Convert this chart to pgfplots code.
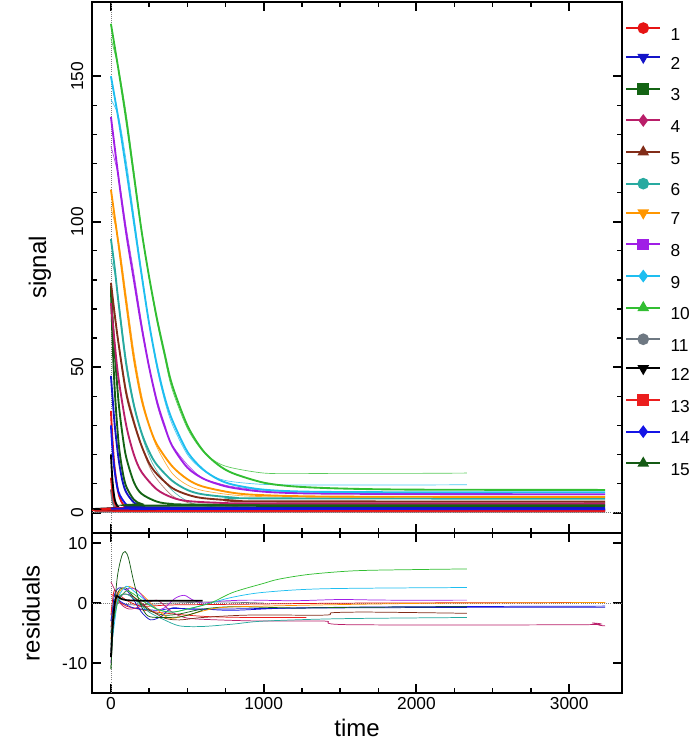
\documentclass[border=0pt]{standalone}
\usepackage{fontspec}
\setmainfont{Liberation Sans}
\usepackage{pgfplots}
\pgfplotsset{compat=1.18}
\usetikzlibrary{calc}
\definecolor{c1}{RGB}{230,20,20}
\definecolor{c2}{RGB}{20,20,200}
\definecolor{c3}{RGB}{20,100,20}
\definecolor{c4}{RGB}{185,30,105}
\definecolor{c5}{RGB}{130,45,25}
\definecolor{c6}{RGB}{40,170,160}
\definecolor{c7}{RGB}{255,150,0}
\definecolor{c8}{RGB}{160,30,230}
\definecolor{c9}{RGB}{30,190,240}
\definecolor{c10}{RGB}{50,190,50}
\definecolor{c11}{RGB}{110,120,130}
\definecolor{c12}{RGB}{0,0,0}
\definecolor{c13}{RGB}{235,30,30}
\definecolor{c14}{RGB}{20,20,230}
\definecolor{c15}{RGB}{20,90,20}
\pgfplotsset{
  common/.style={scale only axis, width=397.5pt, xmin=-124, xmax=3346,
    axis line style={line width=1.6pt}, tick align=inside,
    xtick={0,1000,2000,3000}, minor x tick num=3,
    major tick length=7pt, minor tick length=4pt,
    major tick style={line width=1.4pt, black},
    minor tick style={line width=1pt, black},
    tick label style={font=\fontsize{13}{15}\selectfont},
    label style={font=\fontsize{18}{21}\selectfont},
    /pgf/number format/assume math mode=true,
    /pgf/number format/1000 sep={}},
  fit/.style={line width=1.4pt, smooth},
  dat/.style={line width=0.5pt, smooth},
  res/.style={line width=0.55pt, smooth},
  lg/.style={line width=1.5pt, mark size=3.6pt, mark options={solid, draw=black!75, line width=0.6pt}},
}
\begin{document}
\begin{tikzpicture}
\begin{axis}[common, name=top, height=398.25pt, ymin=-7, ymax=175.5,
  ytick={0,50,100,150}, minor y tick num=4, xticklabels={},
  yticklabel style={rotate=90, anchor=south, yshift=3pt},
  ylabel={signal}, ylabel style={yshift=8pt},
  legend style={at={(1,1)}, anchor=north west, xshift=2.25pt, yshift=-15.75pt,
    draw=none, fill=none, inner sep=0pt, row sep=11.1pt, column sep=7pt,
    font=\fontsize{13}{15}\selectfont,
    nodes={inner sep=0pt, text height=9pt, text depth=0pt}},
  legend cell align=left,
  legend image code/.code={\draw[mark repeat=2, mark phase=2, #1] plot coordinates {(0pt,4.5pt) (12.75pt,4.5pt) (25.5pt,4.5pt)};}
]
\addlegendimage{lg, c1, mark=*, mark options={fill=c1}}\addlegendentry{1}
\addlegendimage{lg, c2, mark=triangle*, mark options={fill=c2, rotate=180}}\addlegendentry{2}
\addlegendimage{lg, c3, mark=square*, mark options={fill=c3}}\addlegendentry{3}
\addlegendimage{lg, c4, mark=diamond*, mark options={fill=c4}}\addlegendentry{4}
\addlegendimage{lg, c5, mark=triangle*, mark options={fill=c5}}\addlegendentry{5}
\addlegendimage{lg, c6, mark=*, mark options={fill=c6}}\addlegendentry{6}
\addlegendimage{lg, c7, mark=triangle*, mark options={fill=c7, rotate=180}}\addlegendentry{7}
\addlegendimage{lg, c8, mark=square*, mark options={fill=c8}}\addlegendentry{8}
\addlegendimage{lg, c9, mark=diamond*, mark options={fill=c9}}\addlegendentry{9}
\addlegendimage{lg, c10, mark=triangle*, mark options={fill=c10}}\addlegendentry{10}
\addlegendimage{lg, c11, mark=*, mark options={fill=c11}}\addlegendentry{11}
\addlegendimage{lg, c12, mark=triangle*, mark options={fill=c12, rotate=180}}\addlegendentry{12}
\addlegendimage{lg, c13, mark=square*, mark options={fill=c13}}\addlegendentry{13}
\addlegendimage{lg, c14, mark=diamond*, mark options={fill=c14}}\addlegendentry{14}
\addlegendimage{lg, c15, mark=triangle*, mark options={fill=c15}}\addlegendentry{15}
\draw[gray, densely dotted, line width=0.6pt] (axis cs:0,-7) -- (axis cs:0,175.5);
\draw[gray, densely dotted, line width=0.6pt] (axis cs:-124,0) -- (axis cs:3346,0);
% data (thin)
\addplot[dat, c10!80, forget plot] coordinates {(0,163) (50,152.5) (100,137) (150,117.5) (200,97.5) (250,80.8) (300,66) (350,53.8) (400,42.5) (500,29) (600,21.2) (700,17.1) (800,15.3) (1000,13.6) (1200,13.4) (1500,13.5) (2000,13.5) (2330,13.6)};
\addplot[dat, c9!80, forget plot] coordinates {(0,142) (50,136) (100,120.8) (150,102) (200,83) (250,65) (300,50) (350,38.8) (400,30.5) (500,20) (600,14.7) (700,11.8) (800,10.6) (1000,9.7) (1300,9.5) (2000,9.5) (2330,9.6)};
\addplot[dat, c8!80, forget plot] coordinates {(0,126) (50,115.3) (100,98) (150,82.3) (200,65.4) (250,50.1) (300,37.5) (350,29.2) (400,23.3) (500,16.5) (600,11.8) (700,10.1) (800,8.9) (1000,7.7) (1300,7.05) (2000,6.9) (2330,6.8)};
\addplot[dat, c7!80, forget plot] coordinates {(0,105) (50,93.3) (100,74.5) (150,55.3) (200,40.5) (250,30.2) (300,22.6) (400,13.6) (500,9.5) (600,7.6) (800,6.05) (1000,5.5) (1500,5.25) (2200,5.4) (3235,5.5)};
\addplot[dat, c6!80, forget plot] coordinates {(0,87) (25,82.3) (50,73) (100,52.5) (150,37.7) (200,27) (250,19.5) (300,14.4) (400,7.7) (500,3.95) (600,2.4) (800,1.7) (1000,1.9) (1500,2.2) (2330,2.4)};
\addplot[dat, c5!60, forget plot] coordinates {(0,75) (25,67.3) (50,58.6) (100,42.4) (150,32) (200,23) (250,16) (300,11.55) (400,5.85) (500,3.5) (600,2.6) (900,2.0) (1400,1.9) (1700,2.4) (2330,2.1)};
% fits (bold)
\addplot[fit, c11, forget plot] coordinates {(0,8) (10,4) (25,1.5) (50,0.5) (100,0.3) (3235,0.3)};
\addplot[fit, c13, forget plot] coordinates {(0,12) (10,7) (25,3.2) (50,1.2) (100,0.6) (3235,0.5)};
\addplot[fit, c12, forget plot] coordinates {(0,20) (10,11) (25,4.5) (50,1.8) (100,1.1) (3235,1.0)};
\addplot[fit, c1, forget plot] coordinates {(0,35) (10,25) (25,15) (50,6.5) (75,3.2) (100,1.8) (150,1) (3235,0.8)};
\addplot[fit, c14, forget plot] coordinates {(0,30) (10,22) (25,14) (50,7) (100,2.8) (150,1.6) (200,1.3) (3235,1.2)};
\addplot[fit, c2, forget plot] coordinates {(0,47) (10,40) (25,30) (50,18.5) (75,11) (100,7) (150,3.5) (200,2.3) (300,1.8) (3235,1.7)};
\addplot[fit, c15, forget plot] coordinates {(0,77) (10,60) (25,42) (50,24) (75,14.5) (100,9) (150,4.5) (200,3) (300,2.4) (3235,2.3)};
\addplot[fit, c3, forget plot] coordinates {(0,78) (10,68) (25,55) (50,38) (75,27) (100,19) (150,10.5) (200,6.5) (300,3.8) (400,3) (600,2.8) (3235,2.7)};
\addplot[fit, c4, forget plot] coordinates {(0,72) (25,58) (50,46) (100,30) (150,20) (200,14) (300,8) (400,5.2) (500,4) (700,3.4) (1000,3.2) (3235,3.2)};
\addplot[fit, c5, forget plot] coordinates {(0,79) (25,68) (50,58) (100,41) (150,31) (200,23) (250,17) (300,13.3) (400,8.5) (500,6.2) (600,5) (800,4.2) (1000,3.9) (3235,3.8)};
\addplot[fit, c6, forget plot] coordinates {(0,94) (25,84) (50,72) (100,51) (150,37) (200,27.5) (250,21) (300,16.5) (400,11) (500,7.8) (600,6.3) (800,5.2) (1000,4.9) (3235,4.8)};
\addplot[fit, c7, forget plot] coordinates {(0,111) (50,92) (100,72) (150,53) (200,39) (250,30) (300,23.5) (400,16) (500,11.5) (600,9) (800,6.8) (1000,6) (1500,5.5) (3235,5.4)};
\addplot[fit, c8, forget plot] coordinates {(0,136) (50,115) (100,96) (150,80) (200,64) (250,50) (300,38.5) (350,30) (400,23) (500,15.5) (600,11.8) (700,9.8) (800,8.5) (1000,7.2) (1300,6.6) (2000,6.4) (3235,6.3)};
\addplot[fit, c9, forget plot] coordinates {(0,150) (50,135) (100,118) (150,100) (200,82) (250,65) (300,51) (350,40) (400,32) (500,21) (600,15) (700,11.5) (800,9.6) (1000,7.9) (1300,7.2) (2000,7.0) (3235,7.0)};
\addplot[fit, c10, forget plot] coordinates {(0,168) (50,152) (100,135) (150,116) (200,97) (250,81) (300,67) (350,55) (400,44) (500,30) (600,21.5) (700,16.5) (800,13.5) (1000,10.3) (1200,9) (1500,8.3) (2000,7.9) (3235,7.8)};
\end{axis}
\begin{axis}[common, name=bot, at={(top.south west)}, anchor=north west, height=120pt,
  ymin=-15, ymax=11.7, ytick={-10,0,10}, xlabel={time}, ylabel={residuals},
  ylabel style={yshift=10pt}]
\draw[gray, densely dotted, line width=0.6pt] (axis cs:0,-15) -- (axis cs:0,11.7);
\draw[gray, densely dotted, line width=0.6pt] (axis cs:-124,0) -- (axis cs:3346,0);
\addplot[res, c11] coordinates {(0,-3) (20,0.5) (60,0) (150,-0.3) (400,0) (700,0.2) (1000,0)};
\addplot[res, c13] coordinates {(0,1.5) (30,1) (100,-0.5) (300,-1.5) (600,-2.2) (900,-2.4) (1280,-2.4)};
\addplot[res, c1] coordinates {(0,-2) (20,2) (50,1.5) (100,0.5) (200,-0.5) (400,-0.3) (800,-0.2) (1600,0) (3235,0.1)};
\addplot[res, c14] coordinates {(0,-3) (30,0.5) (80,0) (150,-0.8) (300,-1.2) (400,-0.9) (600,-1) (800,-1.2) (1200,-0.8) (2000,-0.6) (3235,-0.5)};
\addplot[res, c2] coordinates {(0,-5) (20,1) (50,2.5) (100,2.2) (150,0.5) (200,-1.5) (260,-2.8) (330,-2.2) (400,-0.8) (500,-1) (700,-1) (1000,-0.9) (1500,-0.8) (2500,-0.7) (3235,-0.7)};
\addplot[res, c3] coordinates {(0,-11) (20,-2) (50,2) (100,2.5) (150,1) (250,-1.2) (350,-2) (450,-1.8) (600,-1) (800,-0.6) (1200,-0.8) (1600,-0.7) (2330,-0.6)};
\addplot[res, c4] coordinates {(0,3.5) (20,2.5) (60,0) (120,-1) (200,-0.5) (300,0.5) (400,-1.5) (500,-2.5) (700,-2.8) (1000,-3) (1400,-3) (1560,-3.6) (3100,-3.6) (3150,-3.3) (3200,-3.7) (3235,-3.8)};
\addplot[res, c5] coordinates {(0,-4) (30,0) (80,1.5) (150,1) (250,-1) (350,-2.5) (450,-2.8) (600,-2.4) (900,-2) (1400,-2) (1450,-1.6) (1700,-1.5) (2330,-1.7)};
\addplot[res, c6] coordinates {(0,-7) (20,-2) (50,1) (100,1.5) (160,0.5) (250,-1.5) (350,-2.8) (450,-3.8) (600,-3.9) (800,-3.5) (1000,-3.0) (1500,-2.6) (2330,-2.4)};
\addplot[res, c7] coordinates {(0,-6) (20,-1) (60,2) (120,2.8) (200,1.5) (280,-0.5) (380,-2.5) (500,-2) (700,-0.8) (1000,-0.5) (1600,-0.2) (2200,0) (3235,0.1)};
\addplot[res, c8] coordinates {(0,-10) (15,-4) (40,0) (80,1.5) (120,2.5) (170,2.2) (230,0.5) (300,-1) (350,-0.8) (420,0.8) (480,1.3) (530,0.6) (600,0) (700,0.3) (900,0.5) (1200,0.4) (1500,0.6) (1800,0.5) (2330,0.5)};
\addplot[res, c9] coordinates {(0,-8) (25,-3) (50,1) (100,2.8) (150,2) (200,1) (300,-1) (400,-1.5) (500,-1) (650,0) (800,1) (1000,1.8) (1400,2.4) (2330,2.6)};
\addplot[res, c10] coordinates {(0,-5) (25,-2) (50,0.5) (100,2) (150,1.5) (200,0.5) (300,-1) (400,-1.5) (500,-1) (650,0) (800,1.8) (1000,3.3) (1100,4.0) (1300,4.8) (1600,5.4) (2000,5.6) (2330,5.7)};
\addplot[res, c15] coordinates {(0,-11) (15,-4) (40,4) (70,7.8) (93,8.6) (115,7.5) (150,3.5) (190,0) (240,-2.1) (320,-2.4) (450,-2.3) (530,-1.8) (600,-1.2)};
\addplot[res, c12, line width=1.3pt] coordinates {(0,-9) (10,-4) (25,0) (40,1.2) (60,0.8) (100,0.5) (200,0.4) (400,0.4) (600,0.4)};
\end{axis}
\pgfresetboundingbox
\path ($(top.south west)+(-69pt,-160.5pt)$) rectangle ($(top.south west)+(451.5pt,399.75pt)$);
\end{tikzpicture}
\end{document}
